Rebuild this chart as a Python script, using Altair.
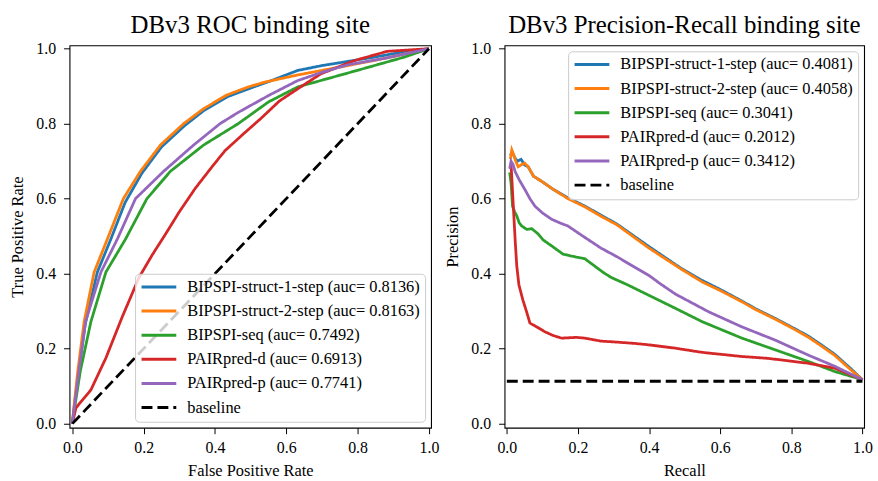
import altair as alt
import pandas as pd

FONT = "Liberation Serif"
COLORS = ["#1f77b4", "#ff7f0e", "#2ca02c", "#d62728", "#9467bd", "#000000"]
DASHES = [[1, 0], [1, 0], [1, 0], [1, 0], [1, 0], [11, 5]]
TICKS = [0.0, 0.2, 0.4, 0.6, 0.8, 1.0]

roc_names = [
    "BIPSPI-struct-1-step (auc= 0.8136)",
    "BIPSPI-struct-2-step (auc= 0.8163)",
    "BIPSPI-seq (auc= 0.7492)",
    "PAIRpred-d (auc= 0.6913)",
    "PAIRpred-p (auc= 0.7741)",
    "baseline",
]
pr_names = [
    "BIPSPI-struct-1-step (auc= 0.4081)",
    "BIPSPI-struct-2-step (auc= 0.4058)",
    "BIPSPI-seq (auc= 0.3041)",
    "PAIRpred-d (auc= 0.2012)",
    "PAIRpred-p (auc= 0.3412)",
    "baseline",
]

# ---- ROC curves (fpr, tpr) ----
roc_s1_fpr = [0, 0.005, 0.017, 0.036, 0.07, 0.107, 0.148, 0.195, 0.25, 0.315, 0.37, 0.435, 0.5, 0.55, 0.632, 0.7, 0.772, 0.85, 0.92, 1.0]
roc_s1_tpr = [0, 0.045, 0.135, 0.265, 0.404, 0.49, 0.59, 0.668, 0.738, 0.795, 0.836, 0.872, 0.895, 0.912, 0.942, 0.955, 0.966, 0.978, 0.99, 1.0]
roc_s2_fpr = [0, 0.005, 0.015, 0.033, 0.061, 0.098, 0.143, 0.191, 0.247, 0.312, 0.368, 0.432, 0.493, 0.54, 0.632, 0.772, 0.88, 1.0]
roc_s2_tpr = [0, 0.05, 0.139, 0.272, 0.404, 0.492, 0.6, 0.673, 0.743, 0.8, 0.84, 0.876, 0.898, 0.911, 0.93, 0.955, 0.975, 1.0]
roc_seq_fpr = [0, 0.006, 0.022, 0.052, 0.094, 0.149, 0.209, 0.275, 0.368, 0.465, 0.55, 0.632, 0.772, 0.929, 1.0]
roc_seq_tpr = [0, 0.04, 0.139, 0.272, 0.404, 0.492, 0.6, 0.673, 0.743, 0.8, 0.858, 0.898, 0.935, 0.977, 1.0]
roc_pd_fpr = [0, 0.01, 0.052, 0.094, 0.14, 0.187, 0.224, 0.261, 0.3, 0.345, 0.39, 0.428, 0.48, 0.53, 0.58, 0.64, 0.697, 0.79, 0.883, 1.0]
roc_pd_tpr = [0, 0.042, 0.09, 0.175, 0.285, 0.39, 0.45, 0.505, 0.565, 0.628, 0.683, 0.728, 0.773, 0.815, 0.86, 0.898, 0.933, 0.968, 0.993, 1.0]
roc_pp_fpr = [0, 0.005, 0.018, 0.037, 0.08, 0.126, 0.177, 0.256, 0.34, 0.414, 0.465, 0.55, 0.632, 0.7, 0.772, 0.88, 1.0]
roc_pp_tpr = [0, 0.04, 0.139, 0.272, 0.404, 0.492, 0.6, 0.673, 0.743, 0.8, 0.83, 0.875, 0.915, 0.937, 0.957, 0.975, 1.0]
roc_base_fpr = [0.0, 1.0]
roc_base_tpr = [0.0, 1.0]

# ---- Precision-Recall curves (recall, precision) ----
pr_s1_rec = [0.01, 0.015, 0.022, 0.03, 0.04, 0.05, 0.06, 0.075, 0.1, 0.13, 0.172, 0.22, 0.265, 0.31, 0.358, 0.4, 0.45, 0.489, 0.549, 0.6, 0.661, 0.7, 0.754, 0.8, 0.847, 0.88, 0.922, 0.968, 1.0]
pr_s1_pre = [0.715, 0.725, 0.71, 0.7, 0.705, 0.69, 0.685, 0.66, 0.645, 0.625, 0.602, 0.58, 0.556, 0.532, 0.5, 0.472, 0.44, 0.415, 0.382, 0.358, 0.327, 0.306, 0.281, 0.258, 0.234, 0.213, 0.185, 0.146, 0.117]
pr_s2_rec = [0.01, 0.014, 0.02, 0.025, 0.032, 0.04, 0.05, 0.06, 0.075, 0.1, 0.13, 0.172, 0.22, 0.265, 0.31, 0.358, 0.4, 0.45, 0.489, 0.549, 0.6, 0.661, 0.7, 0.754, 0.8, 0.847, 0.88, 0.922, 0.968, 1.0]
pr_s2_pre = [0.705, 0.73, 0.715, 0.7, 0.685, 0.69, 0.695, 0.685, 0.66, 0.645, 0.625, 0.6, 0.578, 0.553, 0.53, 0.497, 0.468, 0.437, 0.413, 0.378, 0.355, 0.325, 0.304, 0.279, 0.256, 0.231, 0.21, 0.182, 0.143, 0.117]
pr_seq_rec = [0.008, 0.012, 0.016, 0.022, 0.028, 0.035, 0.042, 0.056, 0.07, 0.089, 0.102, 0.126, 0.158, 0.196, 0.219, 0.27, 0.293, 0.34, 0.4, 0.475, 0.549, 0.661, 0.754, 0.847, 0.922, 1.0]
pr_seq_pre = [0.67, 0.64, 0.58, 0.565, 0.554, 0.535, 0.527, 0.518, 0.52, 0.505, 0.49, 0.474, 0.452, 0.444, 0.44, 0.404, 0.39, 0.37, 0.342, 0.307, 0.272, 0.228, 0.197, 0.166, 0.139, 0.117]
pr_pd_rec = [0.01, 0.012, 0.016, 0.02, 0.024, 0.028, 0.034, 0.045, 0.055, 0.065, 0.08, 0.107, 0.13, 0.154, 0.196, 0.219, 0.265, 0.3, 0.358, 0.4, 0.475, 0.549, 0.661, 0.735, 0.847, 0.922, 1.0]
pr_pd_pre = [0.68, 0.69, 0.62, 0.55, 0.48, 0.42, 0.37, 0.33, 0.3, 0.268, 0.26, 0.245, 0.235, 0.228, 0.23, 0.228, 0.22, 0.218, 0.214, 0.21, 0.201, 0.19, 0.179, 0.174, 0.161, 0.148, 0.117]
pr_pp_rec = [0.008, 0.012, 0.018, 0.023, 0.035, 0.051, 0.065, 0.079, 0.1, 0.126, 0.15, 0.172, 0.214, 0.265, 0.31, 0.358, 0.4, 0.433, 0.475, 0.568, 0.661, 0.754, 0.847, 0.922, 1.0]
pr_pp_pre = [0.68, 0.7, 0.69, 0.673, 0.65, 0.624, 0.6, 0.58, 0.562, 0.545, 0.535, 0.527, 0.5, 0.468, 0.445, 0.418, 0.395, 0.372, 0.345, 0.298, 0.258, 0.223, 0.183, 0.153, 0.117]
pr_base_rec = [0.0, 1.0]
pr_base_pre = [0.113, 0.113]


def table(names, series):
    rows = []
    for name, (xs, ys) in zip(names, series):
        for i, (x, y) in enumerate(zip(xs, ys)):
            rows.append({"x": x, "y": y, "series": name, "idx": i})
    return pd.DataFrame(rows)


roc_df = table(roc_names, [
    (roc_s1_fpr, roc_s1_tpr), (roc_s2_fpr, roc_s2_tpr), (roc_seq_fpr, roc_seq_tpr),
    (roc_pd_fpr, roc_pd_tpr), (roc_pp_fpr, roc_pp_tpr), (roc_base_fpr, roc_base_tpr),
])
pr_df = table(pr_names, [
    (pr_s1_rec, pr_s1_pre), (pr_s2_rec, pr_s2_pre), (pr_seq_rec, pr_seq_pre),
    (pr_pd_rec, pr_pd_pre), (pr_pp_rec, pr_pp_pre), (pr_base_rec, pr_base_pre),
])


def legend(orient):
    return alt.Legend(title=None, orient=orient, offset=6)


def panel(df, names, title, xtitle, ytitle, xdom, width, orient):
    leg = legend(orient)
    return alt.Chart(df).mark_line(strokeWidth=2.8, clip=True).encode(
        x=alt.X("x:Q", scale=alt.Scale(domain=xdom, nice=False, zero=False),
                axis=alt.Axis(title=xtitle, values=TICKS, format=".1f")),
        y=alt.Y("y:Q", scale=alt.Scale(domain=[-0.011, 1.009], nice=False, zero=False),
                axis=alt.Axis(title=ytitle, values=TICKS, format=".1f")),
        color=alt.Color("series:N", scale=alt.Scale(domain=names, range=COLORS), legend=leg),
        strokeDash=alt.StrokeDash("series:N", scale=alt.Scale(domain=names, range=DASHES), legend=leg),
        order="idx:Q",
    ).properties(width=width, height=385, title=title)


left = panel(roc_df, roc_names, "DBv3 ROC binding site", "False Positive Rate",
             "True Positive Rate", [-0.008, 1.006], 364, "bottom-right")
right = panel(pr_df, pr_names, "DBv3 Precision-Recall binding site", "Recall",
              "Precision", [-0.0064, 1.0047], 362, "top-right")

chart = alt.hconcat(left, right, spacing=74, bounds="flush").resolve_scale(
    color="independent", strokeDash="independent"
).resolve_legend(
    color="independent", strokeDash="independent"
).properties(
    padding={"left": 9, "top": 10, "right": 5, "bottom": 0},
    background="white",
).configure_view(
    stroke="black", strokeWidth=1.1
).configure_axis(
    labelFont=FONT, titleFont=FONT, labelFontSize=16, titleFontSize=16.5,
    labelColor="black", titleColor="black", tickColor="black", tickWidth=1,
    tickSize=6, domain=False, grid=False, titleFontWeight="normal",
).configure_axisX(
    labelPadding=6, titlePadding=7,
).configure_axisY(
    labelPadding=8, titlePadding=10,
).configure_legend(
    symbolType="stroke", symbolSize=1225, symbolStrokeWidth=3,
    labelFont=FONT, labelFontSize=16.5, labelColor="black", labelLimit=500,
    labelOffset=9.5, rowPadding=7.3, padding=5, clipHeight=16.5,
    fillColor="rgba(255,255,255,0.8)", strokeColor="#cccccc", cornerRadius=4,
).configure_title(
    font=FONT, fontSize=25, fontWeight="normal", color="black", offset=3, anchor="middle",
)

chart.save("out.html", embed_options={"renderer": "svg", "actions": False})
